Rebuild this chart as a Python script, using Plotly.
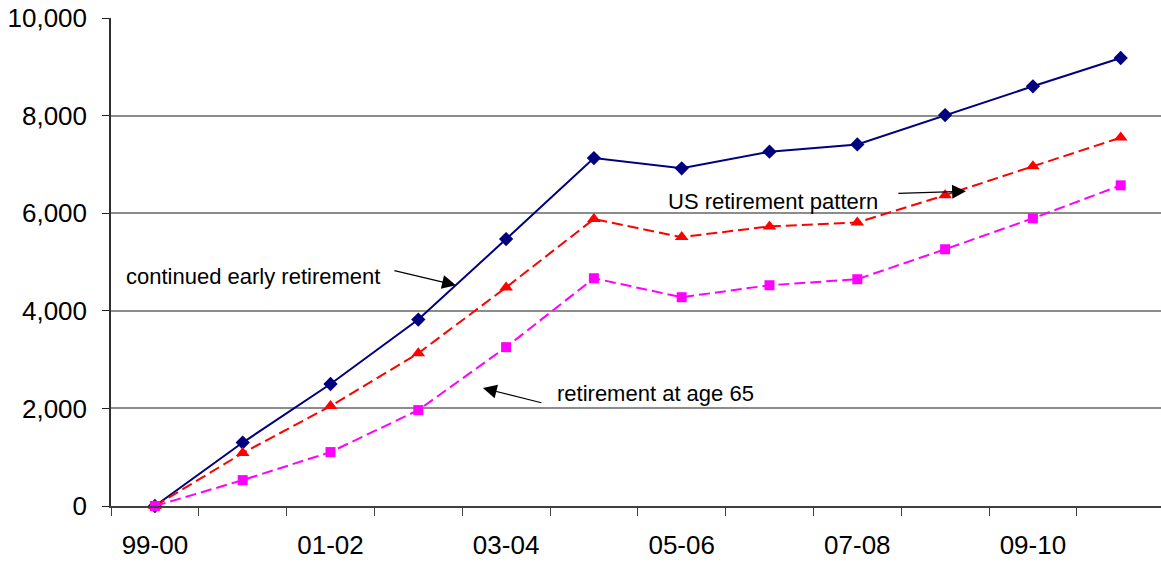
import plotly.graph_objects as go

# Fiscal-year categories and the three projected series
categories = ["99-00", "00-01", "01-02", "02-03", "03-04", "04-05",
              "05-06", "06-07", "07-08", "08-09", "09-10", "10-11"]
early_retirement = [0, 1300, 2500, 3820, 5470, 7130, 6920, 7260, 7410, 8010, 8600, 9180]
us_pattern = [0, 1085, 2047, 3130, 4480, 5880, 5510, 5730, 5810, 6370, 6960, 7550]
age_65 = [0, 530, 1105, 1965, 3255, 4667, 4278, 4524, 4647, 5261, 5895, 6571]

y_ticks = [0, 2000, 4000, 6000, 8000, 10000]
labelled = categories[::2]

xs = list(range(len(categories)))
FONT = "Liberation Sans, Arial, sans-serif"

fig = go.Figure()
fig.add_trace(go.Scatter(
    x=xs, y=early_retirement, mode="lines+markers", name="continued early retirement",
    line=dict(color="#000080", width=2),
    marker=dict(symbol="diamond", size=11, color="#000080"), cliponaxis=False))
fig.add_trace(go.Scatter(
    x=xs, y=us_pattern, mode="lines+markers", name="US retirement pattern",
    line=dict(color="#FF0000", width=2, dash="11px,5px"),
    marker=dict(symbol="triangle-up", size=12, color="#FF0000"), cliponaxis=False))
fig.add_trace(go.Scatter(
    x=xs, y=age_65, mode="lines+markers", name="retirement at age 65",
    line=dict(color="#FF00FF", width=2, dash="11px,5px"),
    marker=dict(symbol="square", size=10, color="#FF00FF"), cliponaxis=False))

# Labels with pointer arrows (text and arrow drawn separately)
labels = [
    ("continued early retirement", 1.116, 4708, 3.428, 4524, 2.711, 4831),
    ("US retirement pattern", 7.039, 6244, 9.237, 6448, 8.451, 6407),
    ("retirement at age 65", 5.706, 2313, 3.736, 2416, 4.419, 2108),
]
annotations = []
for text, tx, ty, hx, hy, sx, sy in labels:
    annotations.append(dict(x=tx, y=ty, xref="x", yref="y", text=text, showarrow=False,
                            font=dict(family=FONT, size=22, color="black")))
    annotations.append(dict(x=hx, y=hy, xref="x", yref="y", ax=sx, ay=sy,
                            axref="x", ayref="y", text="", showarrow=True,
                            arrowhead=2, arrowsize=2.3, arrowwidth=1.2, arrowcolor="black"))

step = 87.8
fig.update_layout(
    width=1161, height=562,
    margin=dict(l=111, r=0, t=18, b=56),
    paper_bgcolor="white", plot_bgcolor="white",
    showlegend=False,
    font=dict(family=FONT, size=26, color="black"),
    annotations=annotations,
    xaxis=dict(
        range=[-0.5, -0.5 + 1050 / step],
        tickvals=xs[::2], ticktext=labelled,
        ticks="", ticklabelstandoff=15,
        showgrid=False, zeroline=False,
        showline=True, linecolor="#404040", linewidth=1.5,
        minor=dict(tickvals=[i - 0.5 for i in range(len(categories) + 1)],
                   ticks="outside", ticklen=8, tickcolor="#404040", tickwidth=1.2),
        tickfont=dict(family=FONT, size=26, color="black"),
    ),
    yaxis=dict(
        range=[0, 10000],
        tickvals=y_ticks, ticktext=[f"{v:,}" for v in y_ticks],
        ticks="outside", ticklen=7, tickcolor="#202020", tickwidth=1.2,
        ticklabelstandoff=10,
        showgrid=True, gridcolor="#8c8c8c", gridwidth=1.5,
        zeroline=False,
        showline=True, linecolor="#303030", linewidth=1.5,
        tickfont=dict(family=FONT, size=26, color="black"),
    ),
)

fig.write_html("out.html")
